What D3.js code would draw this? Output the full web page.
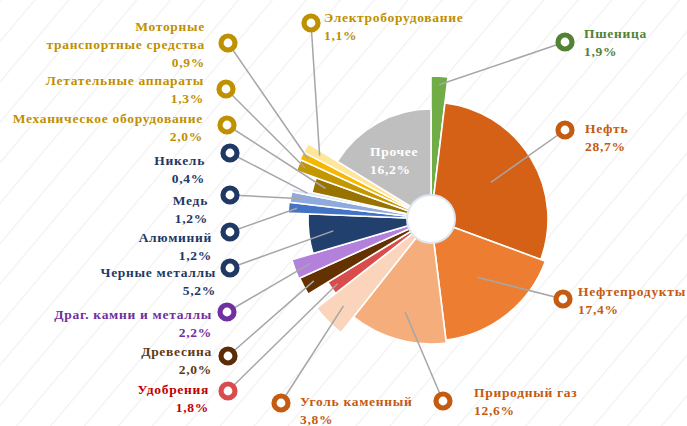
<!DOCTYPE html>
<html>
<head>
<meta charset="utf-8">
<script src="https://cdn.jsdelivr.net/npm/d3@7"></script>
<style>
    body { margin: 0; background: #fff; }
    svg text { font-family: "Liberation Serif", "Times New Roman", serif; font-weight: bold; font-size: 13.5px; letter-spacing: 0.7px; }
</style>
</head>
<body>
<svg id="chart" width="687" height="426"></svg>
<script>
// export shares, %
const categories = ["Пшеница", "Нефть", "Нефтепродукты", "Природный газ", "Уголь каменный", "Удобрения",
    "Древесина", "Драг. камни и металлы", "Черные металлы", "Алюминий", "Медь", "Никель",
    "Механическое оборудование", "Летательные аппараты", "Моторные транспортные средства",
    "Электроборудование", "Прочее"]
const shares = [1.9, 28.7, 17.4, 12.6, 3.8, 1.8, 2.0, 2.2, 5.2, 1.2, 1.2, 0.4, 2.0, 1.3, 0.9, 1.1, 16.2]

// slice styling
const sliceRadius = [143, 117, 122, 125, 145, 121, 144, 145, 123, 143, 142, 142, 122, 143, 144, 144, 110]
const sliceColors = ["#70ad47", "#d46115", "#ed7d31", "#f4ad7b", "#fbd5bb", "#d94c4c", "#633200", "#b381dc",
    "#22406e", "#4472c4", "#8faadc", "#dae3f3", "#997300", "#c49600", "#f5b800", "#ffe699", "#bfbfbf"]
const anchorFrac = [0.94, 0.6, 0.61, 0.77, 0.85, 0.94, 0.92, 0.89, 0.8, 0.94, 0.92, 0.89, 0.9, 0.95, 0.95, 0.89, 0]

// label placement (marker, text)
const labelLayout = [
    { mx: 565, my: 42, tx: 584, ty: 38, side: "start", text: "#548235", ring: "#548235" },
    { mx: 565, my: 130, tx: 585, ty: 133, side: "start", text: "#c55a11", ring: "#c55a11" },
    { mx: 563, my: 299, tx: 578, ty: 296, side: "start", text: "#c55a11", ring: "#c55a11" },
    { mx: 443, my: 401, tx: 474, ty: 397, side: "start", text: "#c55a11", ring: "#c55a11" },
    { mx: 281, my: 403, tx: 300, ty: 406, side: "start", text: "#c55a11", ring: "#c55a11" },
    { mx: 228, my: 391, tx: 209, ty: 394, side: "end", text: "#c00000", ring: "#d94c4c" },
    { mx: 228, my: 356, tx: 212, ty: 356, side: "end", text: "#5f3a12", ring: "#5b2c06" },
    { mx: 227, my: 312, tx: 212, ty: 319, side: "end", text: "#7030a0", ring: "#7030a0" },
    { mx: 230, my: 268, tx: 216, ty: 277, side: "end", text: "#1f3864", ring: "#1f3864" },
    { mx: 230, my: 232, tx: 212, ty: 242, side: "end", text: "#1f3864", ring: "#1f3864" },
    { mx: 230, my: 195, tx: 208, ty: 205, side: "end", text: "#1f3864", ring: "#1f3864" },
    { mx: 230, my: 153, tx: 205, ty: 165, side: "end", text: "#1f3864", ring: "#1f3864" },
    { mx: 227, my: 125, tx: 203, ty: 123, side: "end", text: "#bf9000", ring: "#bf9000" },
    { mx: 226, my: 89, tx: 204, ty: 85, side: "end", text: "#bf9000", ring: "#bf9000" },
    { mx: 228, my: 43, tx: 205, ty: 31, side: "end", text: "#bf9000", ring: "#bf9000", lines: ["Моторные", "транспортные средства"] },
    { mx: 311, my: 23, tx: 324, ty: 22, side: "start", text: "#bf9000", ring: "#bf9000" },
    { mx: null, my: null, tx: 370, ty: 156, side: "start", text: "#ffffff", ring: null }
]

const cx = 431, cy = 219, lineGap = 18

const ru = d3.formatLocale({ decimal: ",", thousands: " ", grouping: [3], currency: ["", ""] })
const fmt = ru.format(".1f")

const svg = d3.select("#chart")

// faint diagonal texture of the background
const defs = svg.append("defs")
defs.append("pattern")
    .attr("id", "stripes")
    .attr("patternUnits", "userSpaceOnUse")
    .attr("width", 26)
    .attr("height", 26)
    .attr("patternTransform", "rotate(40)")
    .append("line")
    .attr("x1", 0).attr("y1", 0)
    .attr("x2", 0).attr("y2", 26)
    .attr("stroke", "#f1f1f1")
    .attr("stroke-width", 2.5)

svg.append("rect")
    .attr("width", 687)
    .attr("height", 426)
    .attr("fill", "url(#stripes)")

const data = categories.map((c, i) => ({ name: c, value: shares[i], i: i }))

const pie = d3.pie()
    .sort(null)
    .value(d => d.value)

const arcs = pie(data)

const arc = d3.arc()
    .innerRadius(0)
    .outerRadius(d => sliceRadius[d.data.i])

const g = svg.append("g").attr("transform", `translate(${cx},${cy})`)

g.selectAll("path.slice")
    .data(arcs)
    .enter()
    .append("path")
    .attr("class", "slice")
    .attr("d", arc)
    .attr("fill", d => sliceColors[d.data.i])
    .attr("stroke", "#fff")
    .attr("stroke-width", 1.6)
    .attr("stroke-linejoin", "round")

// hole in the middle
g.append("circle")
    .attr("r", 24)
    .attr("fill", "#fff")
    .attr("stroke", "#dde6f2")
    .attr("stroke-width", 2)

// leader lines
function anchorPoint(d) {
    let a = (d.startAngle + d.endAngle) / 2,
        r = sliceRadius[d.data.i] * anchorFrac[d.data.i]
    return [cx + r * Math.sin(a), cy - r * Math.cos(a)]
}

const withMarker = arcs.filter(d => labelLayout[d.data.i].mx != null)

svg.append("g")
    .selectAll("line")
    .data(withMarker)
    .enter()
    .append("line")
    .attr("x1", d => anchorPoint(d)[0])
    .attr("y1", d => anchorPoint(d)[1])
    .attr("x2", d => labelLayout[d.data.i].mx)
    .attr("y2", d => labelLayout[d.data.i].my)
    .attr("stroke", "#a6a6a6")
    .attr("stroke-width", 1.5)

// ring markers
svg.append("g")
    .selectAll("circle")
    .data(withMarker)
    .enter()
    .append("circle")
    .attr("cx", d => labelLayout[d.data.i].mx)
    .attr("cy", d => labelLayout[d.data.i].my)
    .attr("r", 7)
    .attr("fill", "#fff")
    .attr("stroke", d => labelLayout[d.data.i].ring)
    .attr("stroke-width", 5.2)

// labels
const labels = svg.append("g")
    .selectAll("text")
    .data(arcs)
    .enter()
    .append("text")
    .attr("x", d => labelLayout[d.data.i].tx)
    .attr("y", d => labelLayout[d.data.i].ty)
    .attr("text-anchor", d => labelLayout[d.data.i].side)
    .attr("fill", d => labelLayout[d.data.i].text)

labels.each(function (d) {
    let l = labelLayout[d.data.i],
        lines = (l.lines || [d.data.name]).concat([fmt(d.data.value) + "%"])
    d3.select(this).selectAll("tspan")
        .data(lines)
        .enter()
        .append("tspan")
        .attr("x", l.tx)
        .attr("dy", (t, k) => k == 0 ? 0 : lineGap)
        .text(t => t)
})
</script>
</body>
</html>
